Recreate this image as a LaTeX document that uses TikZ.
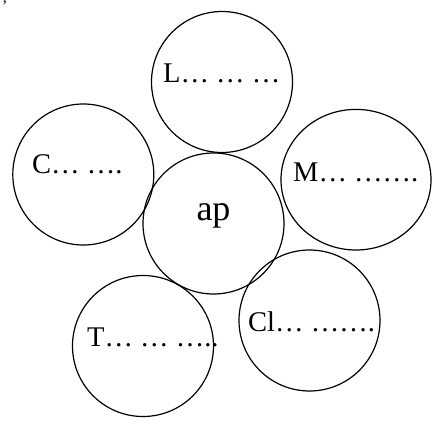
\documentclass[tikz,border=0pt]{standalone}
\usepackage{fontspec}
\setmainfont{Liberation Serif}
\usetikzlibrary{shapes.geometric}
\begin{document}
\begin{tikzpicture}[x=1pt, y=-1pt,
  petal/.style={draw, circle, line width=1.2pt, minimum size=141pt, inner sep=0pt},
  word/.style={anchor=base west, inner sep=0pt, font=\fontsize{28.5}{32}\selectfont}]
\useasboundingbox (0,0) rectangle (433,423);
\node[petal] (centre) at (213.5,223.5) {};
\node[petal] (topc) at (222,82) {};
\node[petal] (leftc) at (83.3,174.5) {};
\node[petal, ellipse, minimum width=150pt, minimum height=140.6pt] (rightc) at (356,179.7) {};
\node[petal] (lowright) at (309.5,320.5) {};
\node[petal] (lowleft) at (143,346) {};
\node[anchor=base, inner sep=0pt, font=\fontsize{36}{40}\selectfont] (ap) at (213.5,220.5) {ap};
\node[word] (ltext) at (163,82.7) {L… … …};
\node[word] (ctext) at (32,173) {C… ….};
\node[word] (mtext) at (293,181.7) {M… …….};
\node[word] (cltext) at (248,331.7) {Cl… …….};
\node[word] (ttext) at (87,346.7) {T… … …..};
\node[anchor=north west, inner sep=0pt, font=\fontsize{16}{16}\selectfont] (mark) at (2,1) {’};
\end{tikzpicture}
\end{document}
